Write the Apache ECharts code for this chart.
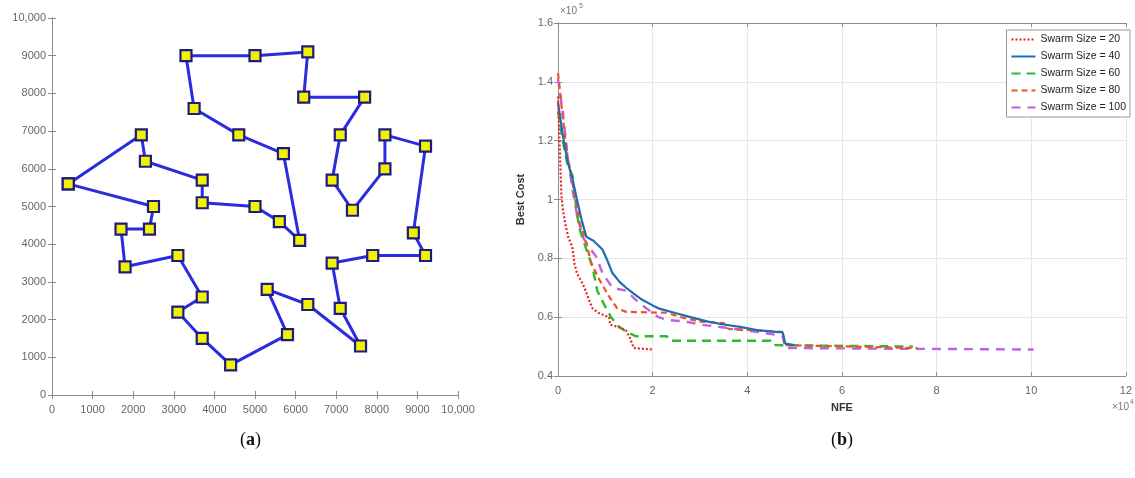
<!DOCTYPE html>
<html>
<head>
<meta charset="utf-8">
<script src="https://cdn.jsdelivr.net/npm/echarts@6/dist/echarts.min.js"></script>
<style>
html,body{margin:0;padding:0;background:#fff;}
#c{width:1135px;height:478px;}
</style>
</head>
<body>
<div id="c"></div>
<script>
// ---- (a) TSP tour: city coordinates in visiting order ----
const tourX = [400,2200,2300,3700,3700,5000,5600,6100,5700,4600,3500,3300,5000,6300,6200,7700,7100,6900,7400,8200,8200,9200,8900,9200,7900,6900,7100,7600,6300,5300,5800,4400,3700,3100,3700,3100,1800,1700,2400,2500,400];
const tourY = [5600,6900,6200,5700,5100,5000,4600,4100,6400,6900,7600,9000,9000,9100,7900,7900,6900,5700,4900,6000,6900,6600,4300,3700,3700,3500,2300,1300,2400,2800,1600,800,1500,2200,2600,3700,3400,4400,4400,5000,5600];
const tickA = [0,1000,2000,3000,4000,5000,6000,7000,8000,9000,10000];

// ---- (b) convergence curves: NFE (x10^4) and Best Cost (x10^5) ----
const nfe20  = [0,0.02,0.05,0.07,0.1,0.15,0.22,0.3,0.35,0.4,0.5,0.56,0.65,0.73,0.85,1.0,1.08,1.1,1.3,1.44,1.52,1.6,2.0];
const cost20 = [1.35,1.25,1.12,1.02,0.97,0.92,0.87,0.84,0.78,0.75,0.72,0.70,0.66,0.63,0.615,0.605,0.60,0.575,0.565,0.555,0.53,0.495,0.49];
const nfe40  = [0,0.1,0.2,0.31,0.4,0.5,0.6,0.75,0.94,1.05,1.15,1.3,1.44,1.6,1.77,2.0,2.12,2.48,2.8,3.17,3.5,3.85,4.2,4.6,4.75,4.8,5.0];
const cost40 = [1.33,1.22,1.13,1.067,1.0,0.93,0.873,0.86,0.83,0.79,0.75,0.72,0.70,0.68,0.66,0.64,0.63,0.614,0.60,0.585,0.575,0.567,0.556,0.55,0.548,0.51,0.505];
const nfe60  = [0,0.1,0.2,0.31,0.4,0.46,0.6,0.73,0.83,1.0,1.12,1.29,1.45,1.65,2.3,2.35,4.5,4.55,7.5];
const cost60 = [1.30,1.20,1.12,1.08,0.95,0.897,0.83,0.77,0.69,0.635,0.60,0.567,0.55,0.535,0.535,0.52,0.52,0.505,0.50];
const nfe80  = [0,0.1,0.2,0.3,0.46,0.6,0.7,0.875,1.08,1.25,1.44,2.3,2.6,3.0,3.5,3.6,4.2,4.75,4.8,7.6];
const cost80 = [1.43,1.28,1.15,1.06,0.92,0.85,0.785,0.727,0.67,0.63,0.618,0.615,0.60,0.585,0.58,0.56,0.555,0.55,0.505,0.495];
const nfe100  = [0,0.1,0.2,0.31,0.4,0.52,0.65,0.81,0.94,1.15,1.44,1.7,2.12,2.33,2.7,3.0,3.5,4.2,4.6,4.75,4.8,10.05];
const cost100 = [1.41,1.30,1.15,1.03,0.95,0.873,0.84,0.805,0.75,0.70,0.69,0.65,0.60,0.59,0.585,0.575,0.565,0.55,0.54,0.535,0.495,0.49];
const seriesNames = ['Swarm Size = 20','Swarm Size = 40','Swarm Size = 60','Swarm Size = 80','Swarm Size = 100'];

const zip = (a,b) => a.map((v,i)=>[v,b[i]]);

const chart = echarts.init(document.getElementById('c'), null, {renderer:'canvas'});
const labA = {color:'#666', fontSize:11, fontFamily:'Liberation Sans, Arial'};
const lineCol = '#8c8c8c';
const tickIn = {show:true, inside:true, length:4, lineStyle:{color:lineCol}};

const option = {
  animation:false,
  backgroundColor:'#fff',
  grid:[
    {left:52, right:677, top:18, bottom:83},
    {left:558, right:2, top:23, bottom:102}
  ],
  legend:{
    orient:'vertical', right:5, top:30, itemWidth:24, itemHeight:10, itemGap:6,
    data:seriesNames, backgroundColor:'#fff', borderColor:'#999', borderWidth:1,
    padding:[4,4,4,4],
    itemStyle:{opacity:0},
    textStyle:{fontSize:10.5, color:'#222', fontFamily:'Liberation Sans, Arial'}
  },
  xAxis:[
    {gridIndex:0, type:'value', min:0, max:10000, interval:1000,
     axisLine:{lineStyle:{color:lineCol}}, axisTick:tickIn,
     splitLine:{show:false},
     axisLabel:Object.assign({margin:9, formatter:v=> v===10000?'10,000':String(v)}, labA)},
    {gridIndex:0, type:'value', position:'top', min:0, max:10000, interval:1000,
     axisLine:{lineStyle:{color:lineCol}}, axisTick:tickIn,
     splitLine:{show:false}, axisLabel:{show:false}},
    {gridIndex:1, type:'value', min:0, max:12, interval:2,
     name:'NFE', nameLocation:'middle', nameGap:26,
     nameTextStyle:{fontWeight:'bold', fontSize:11, color:'#333', fontFamily:'Liberation Sans, Arial'},
     axisLine:{lineStyle:{color:lineCol}}, axisTick:tickIn,
     splitLine:{show:true, lineStyle:{color:'#e6e6e6'}},
     axisLabel:Object.assign({margin:9}, labA)},
    {gridIndex:1, type:'value', position:'top', min:0, max:12, interval:2,
     axisLine:{lineStyle:{color:lineCol}}, axisTick:tickIn,
     splitLine:{show:false}, axisLabel:{show:false}}
  ],
  yAxis:[
    {gridIndex:0, type:'value', min:0, max:10000, interval:1000,
     axisLine:{show:true, lineStyle:{color:lineCol}}, axisTick:tickIn,
     splitLine:{show:false},
     axisLabel:Object.assign({margin:6, formatter:v=> v===10000?'10,000':String(v)}, labA)},
    {gridIndex:0, type:'value', position:'right', min:0, max:10000, interval:1000,
     axisLine:{show:true, lineStyle:{color:lineCol}}, axisTick:tickIn,
     splitLine:{show:false}, axisLabel:{show:false}},
    {gridIndex:1, type:'value', min:0.4, max:1.6, interval:0.2,
     name:'Best Cost', nameLocation:'middle', nameGap:24, nameRotate:90,
     nameTextStyle:{fontWeight:'bold', fontSize:11, color:'#333', fontFamily:'Liberation Sans, Arial'},
     axisLine:{show:true, lineStyle:{color:lineCol}}, axisTick:tickIn,
     splitLine:{show:true, lineStyle:{color:'#e6e6e6'}},
     axisLabel:Object.assign({margin:5, formatter:v=> String(+v.toFixed(1))}, labA)},
    {gridIndex:1, type:'value', position:'right', min:0.4, max:1.6, interval:0.2,
     axisLine:{show:true, lineStyle:{color:lineCol}}, axisTick:tickIn,
     splitLine:{show:false}, axisLabel:{show:false}}
  ],
  graphic:[
    {type:'text', left:560, top:6, style:{text:'×10', fill:'#777', fontSize:10, fontFamily:'Liberation Sans, Arial'}},
    {type:'text', left:579, top:3, style:{text:'5', fill:'#777', fontSize:7, fontFamily:'Liberation Sans, Arial'}},
    {type:'text', left:1112, top:402, style:{text:'×10', fill:'#777', fontSize:10, fontFamily:'Liberation Sans, Arial'}},
    {type:'text', left:1130, top:399, style:{text:'4', fill:'#777', fontSize:7, fontFamily:'Liberation Sans, Arial'}},
    {type:'text', left:240, top:431, style:{
      text:'({b|a})', fill:'#111', fontSize:18, fontFamily:'Liberation Serif, Times New Roman',
      rich:{b:{fontWeight:'bold', fontSize:18, fontFamily:'Liberation Serif, Times New Roman', fill:'#111'}}}},
    {type:'text', left:831, top:431, style:{
      text:'({b|b})', fill:'#111', fontSize:18, fontFamily:'Liberation Serif, Times New Roman',
      rich:{b:{fontWeight:'bold', fontSize:18, fontFamily:'Liberation Serif, Times New Roman', fill:'#111'}}}}
  ],
  series:[
    {type:'line', xAxisIndex:0, yAxisIndex:0, data:zip(tourX,tourY),
     symbol:'rect', symbolSize:11, showSymbol:true,
     lineStyle:{color:'#2b2be0', width:3},
     itemStyle:{color:'#f2f200', borderColor:'#1c1c80', borderWidth:2.2},
     z:3},
    {name:seriesNames[0], type:'line', xAxisIndex:2, yAxisIndex:2, data:zip(nfe20,cost20), showSymbol:false, symbol:'none',
     lineStyle:{color:'#e8262a', width:2.2, type:[2,2]}, itemStyle:{color:'#e8262a'}, z:6},
    {name:seriesNames[1], type:'line', xAxisIndex:2, yAxisIndex:2, data:zip(nfe40,cost40), showSymbol:false, symbol:'none',
     lineStyle:{color:'#1f6db0', width:2.2, type:'solid'}, itemStyle:{color:'#1f6db0'}, z:5},
    {name:seriesNames[2], type:'line', xAxisIndex:2, yAxisIndex:2, data:zip(nfe60,cost60), showSymbol:false, symbol:'none',
     lineStyle:{color:'#2dbb2d', width:2.4, type:[9,6]}, itemStyle:{color:'#2dbb2d'}, z:4},
    {name:seriesNames[3], type:'line', xAxisIndex:2, yAxisIndex:2, data:zip(nfe80,cost80), showSymbol:false, symbol:'none',
     lineStyle:{color:'#f0502a', width:2.2, type:[6,4]}, itemStyle:{color:'#f0502a'}, z:4},
    {name:seriesNames[4], type:'line', xAxisIndex:2, yAxisIndex:2, data:zip(nfe100,cost100), showSymbol:false, symbol:'none',
     lineStyle:{color:'#c060e0', width:2.4, type:[9,7]}, itemStyle:{color:'#c060e0'}, z:3}
  ]
};
chart.setOption(option);
</script>
</body>
</html>
